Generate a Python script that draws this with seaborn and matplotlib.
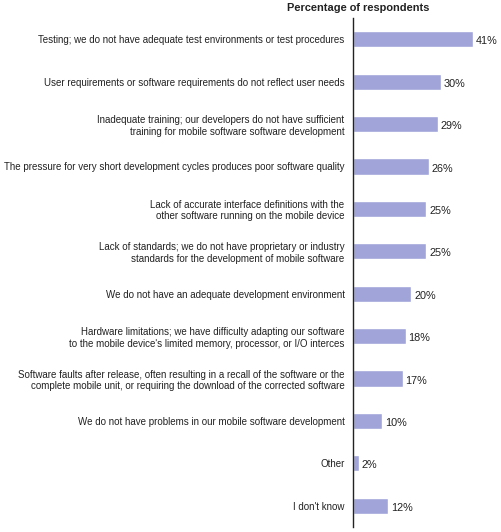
import matplotlib
matplotlib.use("Agg")
import matplotlib.pyplot as plt
import seaborn as sns
import pandas as pd

problems = [
    "Testing; we do not have adequate test environments or test procedures",
    "User requirements or software requirements do not reflect user needs",
    "Inadequate training; our developers do not have sufficient\ntraining for mobile software software development",
    "The pressure for very short development cycles produces poor software quality",
    "Lack of accurate interface definitions with the\nother software running on the mobile device",
    "Lack of standards; we do not have proprietary or industry\nstandards for the development of mobile software",
    "We do not have an adequate development environment",
    "Hardware limitations; we have difficulty adapting our software\nto the mobile device's limited memory, processor, or I/O interces",
    "Software faults after release, often resulting in a recall of the software or the\ncomplete mobile unit, or requiring the download of the corrected software",
    "We do not have problems in our mobile software development",
    "Other",
    "I don't know",
]
percent = [41, 30, 29, 26, 25, 25, 20, 18, 17, 10, 2, 12]

df = pd.DataFrame({"problem": problems, "percent": percent})

sns.set_style("white")
plt.rcParams["font.family"] = ["Liberation Sans", "DejaVu Sans"]

fig = plt.figure(figsize=(5.02, 5.32), dpi=100)
ax = fig.add_axes([0.703, 0.0094, 0.297, 0.9568])

sns.barplot(data=df, x="percent", y="problem", color="#a0a4d8",
            width=0.38, saturation=1, ax=ax)

ax.set_xlim(0, 50.9)
ax.set_ylim(11.5, -0.5)
ax.set_xlabel("")
ax.set_ylabel("")
ax.set_xticks([])
ax.tick_params(axis="y", length=0, pad=6, labelsize=7.0, colors="#222222")
for lab in ax.get_yticklabels():
    lab.set_multialignment("right")
    lab.set_linespacing(1.2)
sns.despine(ax=ax, top=True, right=True, bottom=True, left=False)
ax.spines["left"].set_color("#222222")
ax.spines["left"].set_linewidth(1.0)

for i, v in enumerate(percent):
    ax.text(v + 1.0, i + 0.05, f"{v}%", va="center", ha="left", fontsize=7.8,
            color="#222222")

fig.text(0.713, 0.985, "Percentage of respondents", ha="center", va="center",
         fontsize=7.9, fontweight="bold", color="#222222")

fig.savefig("out.png", dpi=100)
